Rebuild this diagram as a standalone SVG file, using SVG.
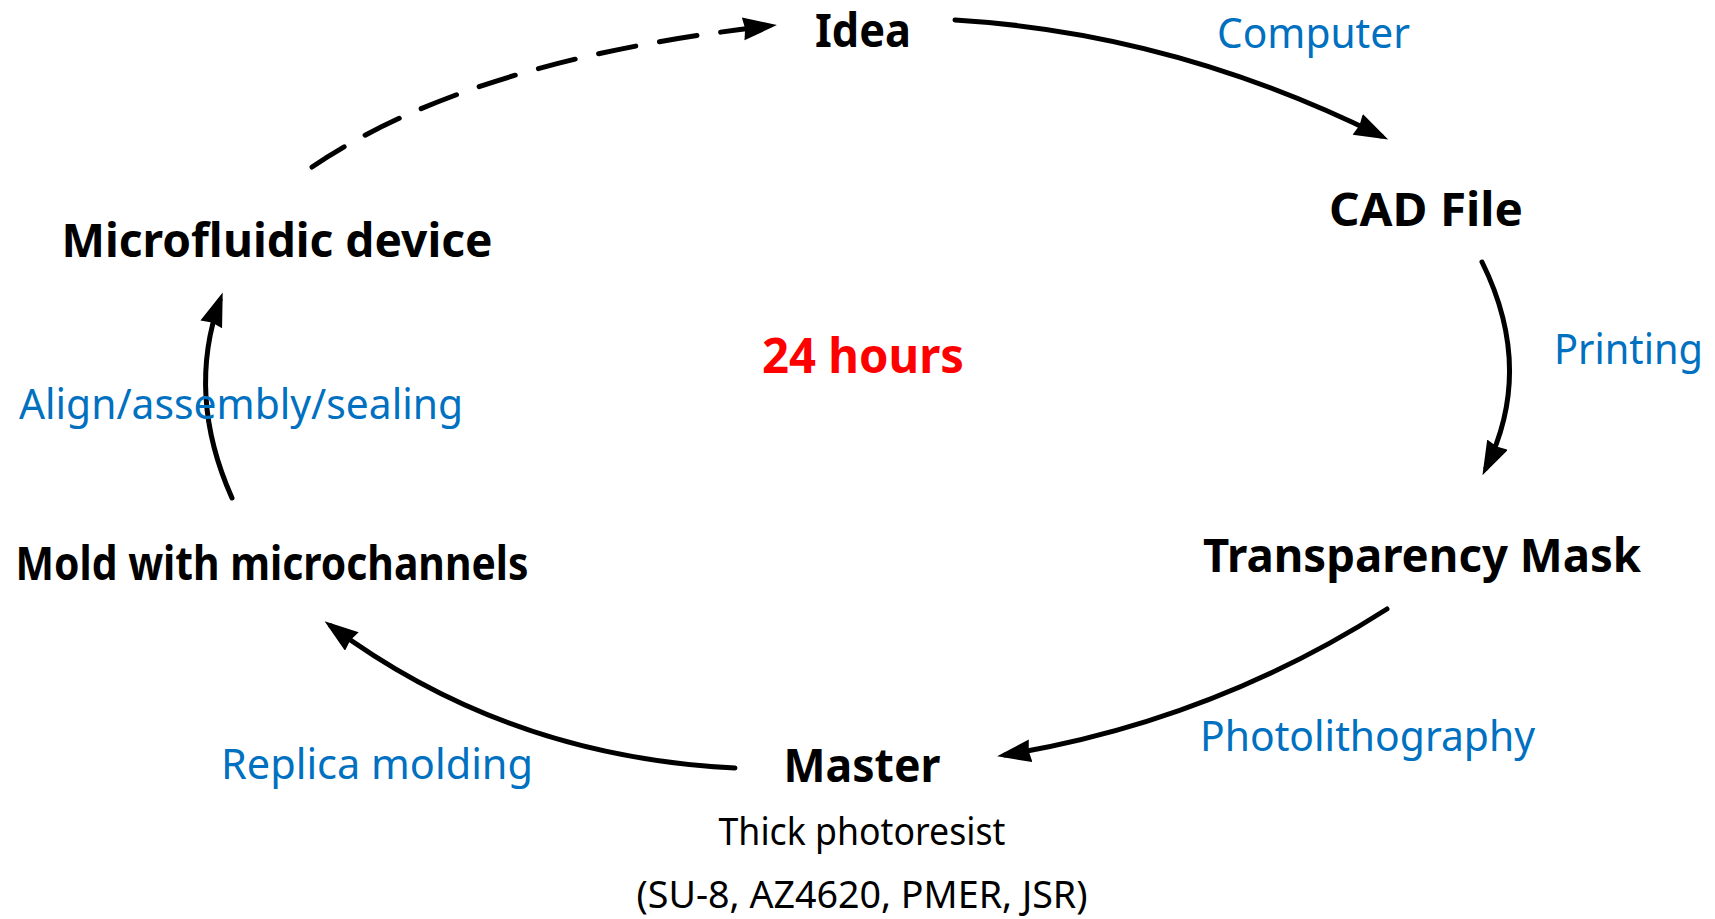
<svg xmlns="http://www.w3.org/2000/svg" width="1715" height="919" viewBox="0 0 1715 919">
  <defs>
    <style>
      .step { font-family: "Noto Sans", "Liberation Sans", sans-serif; font-weight: bold; font-size: 46px; fill: #000000; }
      .how { font-family: "Noto Sans", "Liberation Sans", sans-serif; font-size: 42px; fill: #0070C0; }
      .note { font-family: "Noto Sans", "Liberation Sans", sans-serif; font-size: 38px; fill: #000000; }
      .time { font-family: "Noto Sans", "Liberation Sans", sans-serif; font-weight: bold; font-size: 48px; fill: #FF0000; }
      .flow { fill: none; stroke: #000000; stroke-width: 5; stroke-linecap: round; }
      .dashed { stroke-dasharray: 38 24; stroke-linecap: round; }
    </style>
    <marker id="head" markerUnits="userSpaceOnUse" markerWidth="36" markerHeight="26" refX="26" refY="11.5" orient="auto">
      <path d="M0,0 L34,11.5 L0,23 L2,11.5 Z" fill="#000000"/>
    </marker>
  </defs>

  <rect x="0" y="0" width="1715" height="919" fill="#ffffff"/>

  <!-- connectors of the fabrication cycle -->
  <g id="connectors">
    <path class="flow dashed" d="M312,167 Q470,60 769,26" marker-end="url(#head)"/>
    <path class="flow" d="M955,20 Q1174,33 1381,136" marker-end="url(#head)"/>
    <path class="flow" d="M1482,262 Q1535,369 1486,468" marker-end="url(#head)"/>
    <path class="flow" d="M1387,609 Q1212,721 1005,755" marker-end="url(#head)"/>
    <path class="flow" d="M735,768 Q507,757 331,626" marker-end="url(#head)"/>
    <path class="flow" d="M232,498 Q186,395 220,300" marker-end="url(#head)"/>
  </g>

  <!-- process steps -->
  <g id="idea">
    <text class="step" x="863" y="47" text-anchor="middle" textLength="96" lengthAdjust="spacingAndGlyphs">Idea</text>
  </g>
  <g id="cad-file">
    <text class="step" x="1426" y="226" text-anchor="middle" textLength="194" lengthAdjust="spacingAndGlyphs">CAD File</text>
  </g>
  <g id="transparency-mask">
    <text class="step" x="1422" y="572" text-anchor="middle" textLength="438" lengthAdjust="spacingAndGlyphs">Transparency Mask</text>
  </g>
  <g id="master">
    <text class="step" x="862" y="782" text-anchor="middle" textLength="157" lengthAdjust="spacingAndGlyphs">Master</text>
    <text class="note" x="862" y="845" text-anchor="middle" textLength="287" lengthAdjust="spacingAndGlyphs">Thick photoresist</text>
    <text class="note" x="862" y="908" text-anchor="middle" textLength="451" lengthAdjust="spacingAndGlyphs">(SU-8, AZ4620, PMER, JSR)</text>
  </g>
  <g id="mold">
    <text class="step" x="272" y="580" text-anchor="middle" textLength="513" lengthAdjust="spacingAndGlyphs">Mold with microchannels</text>
  </g>
  <g id="microfluidic-device">
    <text class="step" x="277" y="257" text-anchor="middle" textLength="431" lengthAdjust="spacingAndGlyphs">Microfluidic device</text>
  </g>

  <!-- methods between steps -->
  <g id="labels">
    <text class="how" x="1217" y="48" textLength="193" lengthAdjust="spacingAndGlyphs">Computer</text>
    <text class="how" x="1554" y="364" textLength="149" lengthAdjust="spacingAndGlyphs">Printing</text>
    <text class="how" x="1200" y="751" textLength="335" lengthAdjust="spacingAndGlyphs">Photolithography</text>
    <text class="how" x="221" y="779" textLength="312" lengthAdjust="spacingAndGlyphs">Replica molding</text>
    <text class="how" x="19" y="419" textLength="444" lengthAdjust="spacingAndGlyphs">Align/assembly/sealing</text>
  </g>

  <g id="duration">
    <text class="time" x="863" y="373" text-anchor="middle" textLength="202" lengthAdjust="spacingAndGlyphs">24 hours</text>
  </g>
</svg>
